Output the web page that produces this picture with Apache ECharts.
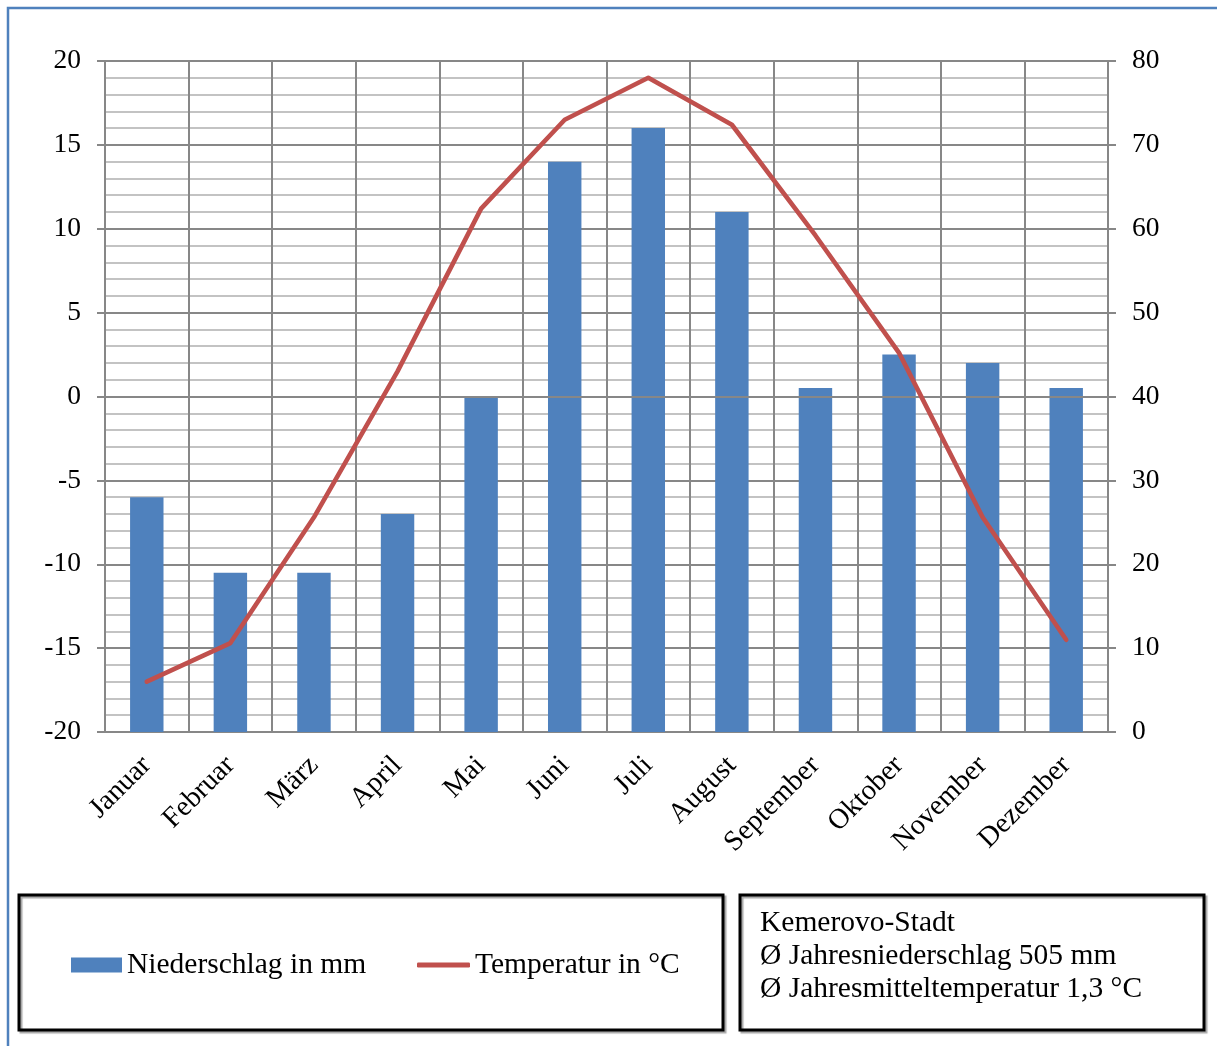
<!DOCTYPE html>
<html lang="de">
<head>
<meta charset="utf-8">
<title>Klimadiagramm Kemerovo-Stadt</title>
<script src="https://cdn.jsdelivr.net/npm/echarts@6/dist/echarts.min.js"></script>
<style>
  html, body { margin: 0; padding: 0; background: #fff; }
  #chart { width: 1217px; height: 1046px; }
</style>
</head>
<body>
<div id="chart"></div>
<script>
// Monatswerte Kemerovo-Stadt
const months = ['Januar', 'Februar', 'März', 'April', 'Mai', 'Juni', 'Juli',
                'August', 'September', 'Oktober', 'November', 'Dezember'];
const precipitation = [28, 19, 19, 26, 40, 68, 72, 62, 41, 45, 44, 41];        // mm
const temperature = [-17.0, -14.7, -7.2, 1.5, 11.2, 16.5, 19.0, 16.2, 9.6, 2.6, -7.2, -14.5]; // °C
const infoLines = ['Kemerovo-Stadt', 'Ø Jahresniederschlag 505 mm', 'Ø Jahresmitteltemperatur 1,3 °C'];
const seriesNames = ['Niederschlag in mm', 'Temperatur in °C'];

const FONT = 'Liberation Serif';
const GRID_DARK = '#878787';
const GRID_LIGHT = '#c3c3c3';
const BLUE = '#4f81bd';
const RED = '#c0504d';

const chart = echarts.init(document.getElementById('chart'), null, { renderer: 'canvas' });

chart.setOption({
  backgroundColor: '#fff',
  animation: false,
  textStyle: { fontFamily: FONT, color: '#000' },
  grid: { left: 105, right: 109, top: 61, bottom: 314, containLabel: false },
  legend: [
    {
      data: [{ name: seriesNames[0], icon: 'rect' }],
      left: 71, top: 950, padding: 0,
      itemWidth: 51, itemHeight: 15, selectedMode: false,
      textStyle: { fontFamily: FONT, fontSize: 29.5, color: '#000' }
    },
    {
      data: [{ name: seriesNames[1], icon: 'roundRect' }],
      left: 417, top: 950, padding: 0,
      itemWidth: 53, itemHeight: 5, selectedMode: false,
      itemStyle: { color: RED, borderWidth: 0 },
      lineStyle: { width: 0 },
      textStyle: { fontFamily: FONT, fontSize: 29.5, color: '#000' }
    }
  ],
  xAxis: {
    type: 'category',
    data: months,
    boundaryGap: true,
    axisLine: { show: true, lineStyle: { color: GRID_DARK, width: 2 } },
    axisTick: { show: false },
    splitLine: { show: true, lineStyle: { color: GRID_DARK, width: 2 } },
    axisLabel: {
      rotate: 45, margin: 29, interval: 0,
      fontFamily: FONT, fontSize: 28.5, color: '#000'
    }
  },
  yAxis: [
    {
      type: 'value', position: 'left',
      min: -20, max: 20, interval: 5,
      axisLine: { show: true, lineStyle: { color: GRID_DARK, width: 2 } },
      axisTick: { show: true, inside: false, length: 8, lineStyle: { color: GRID_DARK, width: 2 } },
      splitLine: { show: true, lineStyle: { color: GRID_DARK, width: 2 } },
      minorTick: { show: false, splitNumber: 5 },
      minorSplitLine: { show: true, lineStyle: { color: GRID_LIGHT, width: 2 } },
      axisLabel: { margin: 24, fontFamily: FONT, fontSize: 27.5, color: '#000' }
    },
    {
      type: 'value', position: 'right',
      min: 0, max: 80, interval: 10,
      axisLine: { show: true, lineStyle: { color: GRID_DARK, width: 2 } },
      axisTick: { show: true, inside: false, length: 8, lineStyle: { color: GRID_DARK, width: 2 } },
      splitLine: { show: false },
      axisLabel: { margin: 24, fontFamily: FONT, fontSize: 27.5, color: '#000' }
    }
  ],
  series: [
    {
      name: seriesNames[0],
      type: 'bar',
      yAxisIndex: 1,
      data: precipitation,
      barWidth: '40%',
      itemStyle: { color: BLUE },
      z: 2
    },
    {
      name: seriesNames[1],
      type: 'line',
      yAxisIndex: 0,
      data: temperature,
      symbol: 'none',
      smooth: false,
      lineStyle: { color: RED, width: 4.6, cap: 'round', join: 'round' },
      itemStyle: { color: RED },
      z: 4,
      markLine: {
        silent: true,
        symbol: 'none',
        label: { show: false },
        lineStyle: { color: GRID_DARK, width: 2, type: 'solid' },
        data: [{ yAxis: 0 }],
        z: 3
      }
    }
  ],
  graphic: [
    {
      type: 'rect', silent: true, z: -1,
      shape: { x: 8, y: 8, width: 1240, height: 1080 },
      style: { fill: 'none', stroke: BLUE, lineWidth: 2.5 }
    },
    {
      type: 'rect', silent: true,
      shape: { x: 19, y: 895, width: 704, height: 135 },
      style: {
        fill: 'none', stroke: '#000', lineWidth: 3,
        shadowColor: 'rgba(0,0,0,0.35)', shadowOffsetX: 2, shadowOffsetY: 2, shadowBlur: 1
      }
    },
    {
      type: 'rect', silent: true,
      shape: { x: 740, y: 895, width: 464, height: 135 },
      style: {
        fill: 'none', stroke: '#000', lineWidth: 3,
        shadowColor: 'rgba(0,0,0,0.35)', shadowOffsetX: 2, shadowOffsetY: 2, shadowBlur: 1
      }
    },
    {
      type: 'text', silent: true,
      left: 760, top: 907,
      style: {
        text: infoLines.join('\n'),
        font: '29.5px "' + FONT + '"',
        lineHeight: 33,
        fill: '#000'
      }
    }
  ]
});
</script>
</body>
</html>
